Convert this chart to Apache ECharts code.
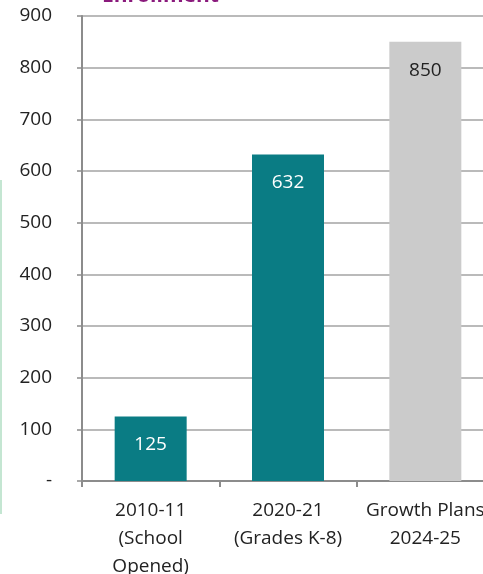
<!DOCTYPE html>
<html>
<head>
<meta charset="utf-8">
<script src="https://cdn.jsdelivr.net/npm/echarts@6/dist/echarts.min.js"></script>
<style>
  html, body { margin: 0; padding: 0; background: #fff; overflow: hidden; }
  #main { width: 494px; height: 574px; }
</style>
</head>
<body>
<div id="main"></div>
<script>
var categories = ['2010-11\n(School\nOpened)', '2020-21\n(Grades K-8)', 'Growth Plans\n2024-25'];
var enrollment = [125, 632, 850];
var barColors = ['#0a7c84', '#0a7c84', '#cbcbcb'];
var labelColors = ['#ffffff', '#ffffff', '#222222'];

var chartDom = document.getElementById('main');
var myChart = echarts.init(chartDom);
var font = '"Open Sans", "Noto Sans", sans-serif';

var option = {
  animation: false,
  title: {
    text: 'Enrollment',
    left: 97,
    top: -19,
    textStyle: { color: '#8a1a7c', fontSize: 21, fontWeight: 'bold', fontFamily: font }
  },
  graphic: [
    {
      type: 'line',
      shape: { x1: 1, y1: 180, x2: 1, y2: 514 },
      style: { stroke: '#c4e6d2', lineWidth: 2 }
    }
  ],
  grid: { left: 82, top: 16, right: 0, height: 465, outerBoundsMode: 'none' },
  xAxis: {
    type: 'category',
    data: categories,
    axisLine: { lineStyle: { color: '#8c8c8c', width: 2 } },
    axisTick: { show: true, length: 6, lineStyle: { color: '#8c8c8c', width: 2 } },
    axisLabel: { color: '#222', fontSize: 19, fontFamily: font, lineHeight: 28, margin: 16, interval: 0 }
  },
  yAxis: {
    type: 'value',
    min: 0,
    max: 900,
    interval: 100,
    axisLine: { show: true, lineStyle: { color: '#8c8c8c', width: 2 } },
    axisTick: { show: true, length: 5, lineStyle: { color: '#8c8c8c', width: 1.5 } },
    splitLine: { lineStyle: { color: '#a3a3a3', width: 1.5 } },
    axisLabel: {
      color: '#222', fontSize: 19, fontFamily: font, margin: 30,
      formatter: function (v) { return v === 0 ? '-' : String(v); }
    }
  },
  series: [
    {
      type: 'bar',
      barWidth: 72,
      data: enrollment.map(function (v, i) {
        return {
          value: v,
          itemStyle: { color: barColors[i] },
          label: { color: labelColors[i] }
        };
      }),
      label: {
        show: true,
        position: 'insideTop',
        distance: 19,
        fontSize: 19,
        fontFamily: font
      }
    }
  ]
};

myChart.setOption(option);
</script>
</body>
</html>
